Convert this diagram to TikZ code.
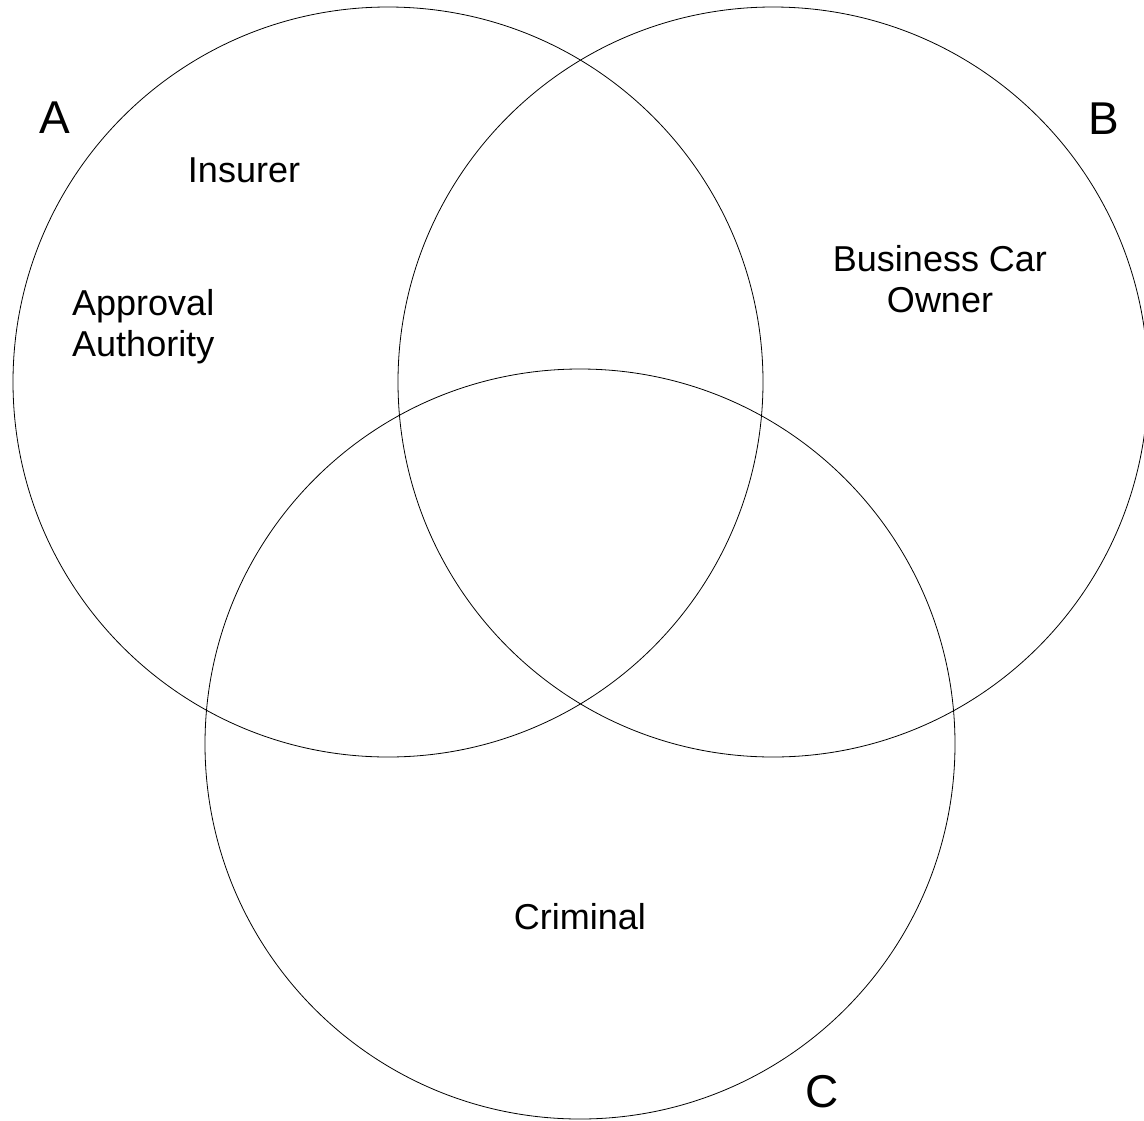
\documentclass[tikz,border=0pt]{standalone}
\usepackage{fontspec}
\setmainfont{Liberation Sans}
\usepackage{tikz}
\usepackage{xcolor}

\tikzset{
  setlabel/.style={font=\fontsize{46}{50}\selectfont, inner sep=0pt},
  rolelabel/.style={font=\fontsize{36}{40.5}\selectfont, inner sep=0pt},
  setcircle/.style={black, line width=0.8pt}
}

\begin{document}
\begin{tikzpicture}[x=1pt,y=-1pt]
  \useasboundingbox (0,0) rectangle (1144,1120);
   \draw[setcircle]  (388,382) circle (375);
   \draw[setcircle]  (773,382) circle (375);
   \draw[setcircle]  (580,744) circle (375);

  \node[setlabel,anchor=base] (labelA) at (55,133) {A};
  \node[setlabel,anchor=base] (labelB) at (1104,134) {B};
  \node[setlabel,anchor=base] (labelC) at (822,1107) {C};

  \node[rolelabel,anchor=base] (insurer) at (244,182) {Insurer};
  \node[rolelabel,anchor=base west,align=left] (approval) at (72,356) {Approval\\Authority};
  \node[rolelabel,anchor=base,align=center] (owner) at (940,312) {Business Car\\Owner};
  \node[rolelabel,anchor=base] (criminal) at (580,929) {Criminal};

\end{tikzpicture}
\end{document}
